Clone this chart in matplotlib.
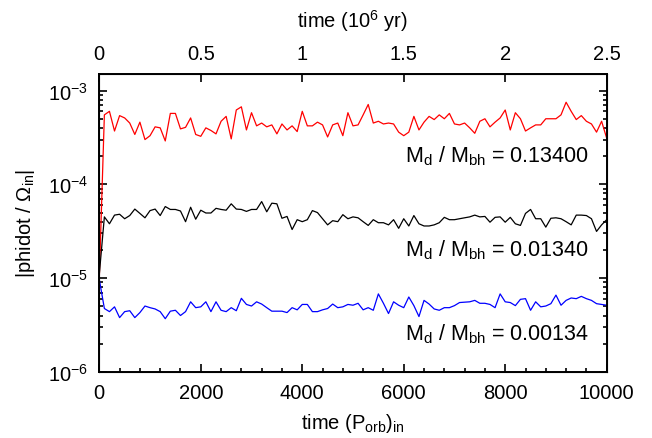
import numpy as np
import matplotlib
matplotlib.use('Agg')
import matplotlib.pyplot as plt
from matplotlib.ticker import MultipleLocator, LogLocator, NullFormatter, NullLocator

# time in inner orbits, one sample every 100 P_orb
t = np.arange(0, 10001, 100)

# |phidot / Omega_in| for the three disc masses
red = [1.0e-5, 5.5e-4, 6.0e-4, 3.7e-4, 5.4e-4, 5.1e-4, 4.5e-4, 3.4e-4, 4.6e-4, 3.0e-4,
       3.3e-4, 4.1e-4, 4.0e-4, 2.9e-4, 5.7e-4, 5.7e-4, 3.9e-4, 4.05e-4, 5.1e-4, 3.4e-4,
       3.25e-4, 4.0e-4, 3.75e-4, 3.45e-4, 4.7e-4, 5.3e-4, 3.05e-4, 6.2e-4, 6.7e-4, 3.8e-4,
       5.8e-4, 4.2e-4, 4.5e-4, 4.1e-4, 4.3e-4, 3.45e-4, 4.4e-4, 3.8e-4, 4.2e-4, 3.65e-4,
       6.0e-4, 4.2e-4, 4.2e-4, 4.6e-4, 4.3e-4, 3.2e-4, 4.3e-4, 4.5e-4, 3.3e-4, 5.8e-4,
       4.2e-4, 4.3e-4, 5.5e-4, 7.1e-4, 4.5e-4, 4.7e-4, 4.4e-4, 4.5e-4, 4.4e-4, 3.6e-4,
       3.3e-4, 3.6e-4, 5.3e-4, 3.8e-4, 4.6e-4, 5.3e-4, 4.9e-4, 5.5e-4, 5.0e-4, 5.7e-4,
       4.4e-4, 4.3e-4, 4.5e-4, 4.0e-4, 3.5e-4, 4.7e-4, 5.0e-4, 4.1e-4, 4.6e-4, 5.1e-4,
       6.2e-4, 3.8e-4, 5.8e-4, 5.0e-4, 3.7e-4, 4.0e-4, 4.3e-4, 4.3e-4, 5.0e-4, 5.0e-4,
       5.0e-4, 5.5e-4, 7.5e-4, 6.0e-4, 4.9e-4, 5.4e-4, 4.7e-4, 4.4e-4, 3.6e-4, 4.7e-4,
       3.1e-4]

black = [1.1e-5, 4.5e-5, 3.8e-5, 4.7e-5, 4.8e-5, 4.3e-5, 4.65e-5, 5.45e-5, 4.9e-5, 4.4e-5,
         5.25e-5, 5.45e-5, 4.65e-5, 5.8e-5, 5.4e-5, 5.4e-5, 5.2e-5, 4.0e-5, 5.7e-5, 4.25e-5,
         5.3e-5, 4.95e-5, 4.95e-5, 5.55e-5, 5.4e-5, 5.3e-5, 6.2e-5, 5.45e-5, 5.4e-5, 5.15e-5,
         5.4e-5, 5.4e-5, 6.55e-5, 5.1e-5, 6.3e-5, 6.2e-5, 4.35e-5, 4.55e-5, 3.3e-5, 4.2e-5,
         4.0e-5, 4.2e-5, 5.25e-5, 5.0e-5, 4.3e-5, 3.7e-5, 4.1e-5, 4.0e-5, 4.75e-5, 4.3e-5,
         4.5e-5, 4.4e-5, 4.0e-5, 3.65e-5, 4.2e-5, 3.9e-5, 3.9e-5, 3.7e-5, 4.2e-5, 3.4e-5,
         4.3e-5, 3.6e-5, 4.65e-5, 3.8e-5, 3.6e-5, 3.6e-5, 3.7e-5, 3.9e-5, 4.45e-5, 4.2e-5,
         4.2e-5, 4.3e-5, 4.4e-5, 4.5e-5, 4.7e-5, 4.5e-5, 4.55e-5, 3.95e-5, 4.45e-5, 4.5e-5,
         3.95e-5, 4.45e-5, 3.8e-5, 3.65e-5, 4.9e-5, 5.4e-5, 4.3e-5, 4.3e-5, 3.5e-5, 4.35e-5,
         4.4e-5, 4.3e-5, 4.0e-5, 3.7e-5, 4.7e-5, 4.7e-5, 4.65e-5, 4.3e-5, 3.15e-5, 3.7e-5,
         4.2e-5]

blue = [9.7e-6, 4.75e-6, 4.4e-6, 4.95e-6, 3.8e-6, 4.4e-6, 4.5e-6, 3.8e-6, 4.3e-6, 5.05e-6,
        4.85e-6, 4.7e-6, 4.4e-6, 3.7e-6, 4.45e-6, 4.55e-6, 4.0e-6, 4.4e-6, 5.6e-6, 4.85e-6,
        4.95e-6, 5.6e-6, 4.4e-6, 5.6e-6, 4.55e-6, 4.4e-6, 4.85e-6, 4.5e-6, 6.1e-6, 5.25e-6,
        5.05e-6, 5.6e-6, 5.3e-6, 4.85e-6, 4.45e-6, 4.45e-6, 4.45e-6, 4.3e-6, 4.85e-6, 4.6e-6,
        5.25e-6, 5.25e-6, 4.4e-6, 4.4e-6, 4.6e-6, 4.75e-6, 5.3e-6, 4.85e-6, 4.95e-6, 5.25e-6,
        5.15e-6, 5.4e-6, 4.6e-6, 4.85e-6, 4.55e-6, 6.8e-6, 5.4e-6, 4.2e-6, 5.6e-6, 5.15e-6,
        4.85e-6, 6.3e-6, 5.1e-6, 3.9e-6, 5.8e-6, 5.3e-6, 4.7e-6, 4.55e-6, 4.85e-6, 4.85e-6,
        5.1e-6, 5.5e-6, 5.55e-6, 5.6e-6, 5.8e-6, 5.4e-6, 5.4e-6, 5.25e-6, 4.85e-6, 6.8e-6,
        5.6e-6, 5.5e-6, 5.1e-6, 5.95e-6, 6.05e-6, 4.55e-6, 5.6e-6, 4.95e-6, 5.05e-6, 5.35e-6,
        6.6e-6, 5.15e-6, 5.8e-6, 6.15e-6, 6.05e-6, 6.4e-6, 6.05e-6, 5.8e-6, 5.35e-6, 5.25e-6,
        5.15e-6]

labels = ['0.13400', '0.01340', '0.00134']
label_y = [1.76e-4, 1.76e-5, 2.25e-6]

bottom_ticks = [0, 2000, 4000, 6000, 8000, 10000]
top_ticks = [0, 0.5, 1, 1.5, 2, 2.5]
top_labels = ['0', '0.5', '1', '1.5', '2', '2.5']

plt.rcParams['font.family'] = ['Liberation Sans', 'DejaVu Sans']
plt.rcParams['mathtext.fontset'] = 'custom'
plt.rcParams['mathtext.rm'] = 'Liberation Sans'
plt.rcParams['mathtext.it'] = 'Liberation Sans:italic'
plt.rcParams['mathtext.default'] = 'regular'
plt.rcParams['font.size'] = 14.5

fig = plt.figure(figsize=(6.52, 4.39), dpi=100)
ax = fig.add_axes([0.1523, 0.1503, 0.7782, 0.6789])

ax.plot(t, red, color='#ff0000', lw=0.9)
ax.plot(t, black, color='black', lw=0.9)
ax.plot(t, blue, color='#0000ff', lw=0.9)

ax.set_yscale('log')
ax.set_xlim(0, 10000)
ax.set_ylim(1e-6, 1.5e-3)
ax.set_xticks(bottom_ticks)
ax.xaxis.set_minor_locator(MultipleLocator(400))
ax.yaxis.set_minor_locator(LogLocator(base=10, subs=np.arange(2, 10)))
ax.yaxis.set_minor_formatter(NullFormatter())
ax.tick_params(which='both', direction='in', top=False, right=True, width=1.2)
ax.tick_params(which='major', length=6, pad=8)
ax.tick_params(which='minor', length=3)
for s in ax.spines.values():
    s.set_linewidth(1.4)

for lab, y in zip(labels, label_y):
    ax.text(0.965, y, r'M$_{d}$ / M$_{bh}$ = ' + lab, ha='right', va='baseline',
            fontsize=15.5, transform=ax.get_yaxis_transform())

ax.set_xlabel('time (P$_{orb}$)$_{in}$', va='center')
ax.xaxis.set_label_coords(0.5, -0.168)
ax.set_ylabel('|phidot / \u03a9$_{in}$|', va='center')
ax.yaxis.set_label_coords(-0.146, 0.5)

# top axis in Myr
ax2 = ax.twiny()
ax2.set_xlim(0, 2.5)
ax2.set_xticks(top_ticks)
ax2.set_xticklabels(top_labels)
ax2.xaxis.set_minor_locator(NullLocator())
ax2.tick_params(direction='in', length=6, pad=8, width=1.2)
ax2.set_xlabel('time (10$^{6}$ yr)', va='center')
ax2.xaxis.set_label_coords(0.5, 1.18)

fig.savefig('out.png', dpi=100)
